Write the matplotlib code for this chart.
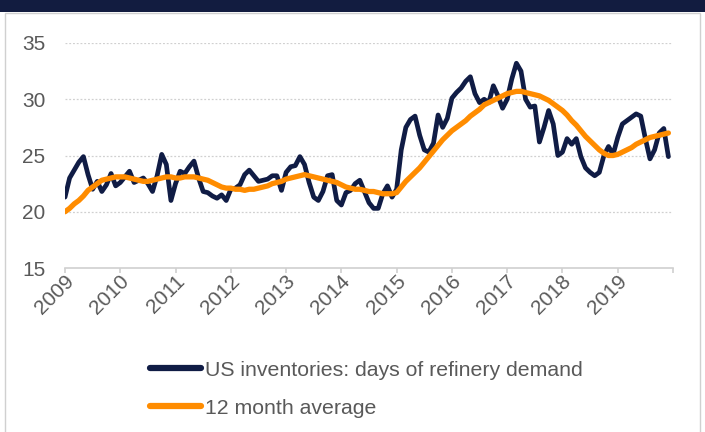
import matplotlib
matplotlib.use("Agg")
import matplotlib.pyplot as plt
from matplotlib.patches import Rectangle
from matplotlib.lines import Line2D
from matplotlib.transforms import ScaledTranslation

plt.rcParams['font.family'] = ['Liberation Sans', 'DejaVu Sans']

start_year = 2009
year_ticks = list(range(2009, 2021))
year_labels = [str(y) for y in range(2009, 2020)]
y_ticks = [15, 20, 25, 30, 35]

days_demand = [
    21.3, 23.0, 23.7, 24.4, 24.9, 23.3, 22.0, 22.7, 21.8, 22.4, 23.4, 22.3,
    22.6, 23.1, 23.6, 22.6, 22.8, 23.0, 22.5, 21.8, 23.2, 25.1, 24.2, 21.0,
    22.5, 23.6, 23.4, 24.0, 24.5, 23.0, 21.8, 21.7, 21.4, 21.2, 21.5, 21.0,
    22.0, 22.1, 22.4, 23.3, 23.7, 23.2, 22.7, 22.8, 22.9, 23.2, 23.2, 21.9,
    23.5, 24.0, 24.1, 24.9, 24.2, 22.6, 21.3, 21.0, 21.8, 23.2, 23.3, 21.0,
    20.6, 21.7, 21.9, 22.5, 22.8, 21.8, 20.8, 20.3, 20.3, 21.6, 22.3, 21.3,
    22.0, 25.5, 27.5, 28.2, 28.5, 26.8, 25.5, 25.3, 26.1, 28.6, 27.5, 28.3,
    30.1, 30.6, 31.0, 31.6, 32.0, 30.5, 29.7, 30.0, 29.7, 31.2, 30.3, 29.2,
    30.0, 31.8, 33.2, 32.5, 30.0, 29.3, 29.4, 26.2, 27.5, 29.0, 27.8, 25.0,
    25.3, 26.5, 26.0, 26.5, 24.9, 23.9, 23.5, 23.2, 23.5, 25.0, 25.8, 25.1,
    26.6, 27.8, 28.1, 28.4, 28.7, 28.5, 26.5, 24.7, 25.5, 27.0, 27.4, 24.9,
]

avg_12m = [
    20.0, 20.3, 20.7, 21.0, 21.4, 21.9, 22.2, 22.5, 22.8, 22.9, 23.0, 23.1,
    23.1, 23.1, 23.0, 22.9, 22.8, 22.7, 22.7, 22.8, 22.9, 23.0, 23.1, 23.1,
    23.0, 23.0, 23.1, 23.1, 23.1, 23.0, 22.9, 22.8, 22.6, 22.4, 22.2, 22.1,
    22.1, 22.0, 22.0, 21.9, 22.0, 22.0, 22.1, 22.2, 22.3, 22.5, 22.6, 22.7,
    22.9, 23.0, 23.1, 23.2, 23.3, 23.2, 23.1, 23.0, 22.9, 22.8, 22.7, 22.6,
    22.4, 22.2, 22.1, 22.0, 22.0, 21.9, 21.8, 21.8, 21.7, 21.6, 21.6, 21.6,
    21.7, 22.2, 22.7, 23.1, 23.5, 23.9, 24.4, 24.9, 25.4, 25.9, 26.4, 26.8,
    27.2, 27.5, 27.8, 28.1, 28.5, 28.8, 29.1, 29.5, 29.7, 29.9, 30.1, 30.3,
    30.5, 30.6, 30.7, 30.7, 30.6, 30.5, 30.4, 30.3, 30.1, 29.9, 29.6, 29.3,
    29.0, 28.6, 28.1, 27.7, 27.2, 26.7, 26.3, 25.9, 25.5, 25.2, 25.0, 25.0,
    25.1, 25.3, 25.5, 25.7, 26.0, 26.2, 26.4, 26.6, 26.7, 26.8, 26.9, 27.0,
]

series_names = ["US inventories: days of refinery demand", "12 month average"]
navy = "#101c45"
orange = "#ff8c00"
text_gray = "#595959"

x = [start_year + i / 12 for i in range(len(days_demand))]

W, H = 705, 432
fig = plt.figure(figsize=(W / 100, H / 100), dpi=100)
fig.patch.set_facecolor("white")

# top band and panel border
fig.add_artist(Rectangle((0, 1 - 12 / H), 1, 12 / H, transform=fig.transFigure,
                         facecolor="#121c40", edgecolor="none", zorder=0))
fig.add_artist(Rectangle((4.5 / W, -0.01), (700 - 4.5) / W, 1 - 12.5 / H + 0.01,
                         transform=fig.transFigure, facecolor="none",
                         edgecolor="#d0d0d0", linewidth=1.0, zorder=0))

ax = fig.add_axes([65 / W, 1 - 268 / H, (673 - 65) / W, (268 - 43) / H])
ax.plot(x, days_demand, color=navy, linewidth=3.4, solid_joinstyle="round",
        solid_capstyle="round", zorder=3)
ax.plot(x, avg_12m, color=orange, linewidth=3.8, solid_joinstyle="round",
        solid_capstyle="round", zorder=4)

ax.set_xlim(2009, 2020)
ax.set_ylim(15, 35)
ax.set_yticks(y_ticks)
ax.set_xticks(year_ticks)
ax.set_xticklabels([])
label_trans = ax.get_xaxis_transform() + ScaledTranslation(6 / 100, -10 / 100,
                                                           fig.dpi_scale_trans)
for yr, lab in zip(year_ticks, year_labels):
    ax.text(yr, 0, lab, transform=label_trans, rotation=45, ha="right",
            va="center", rotation_mode="anchor", fontsize=15, color=text_gray,
            clip_on=False)
for gy in y_ticks[1:]:
    ax.axhline(gy, color="#d0d0d0", linewidth=0.9, linestyle=(0, (1.5, 1.5)), zorder=1)

for s in ["top", "right", "left"]:
    ax.spines[s].set_visible(False)
ax.spines["bottom"].set_color("#d0d0d0")
ax.spines["bottom"].set_linewidth(1.2)
ax.tick_params(axis="x", colors="#d0d0d0", length=3.8, width=1.2)
ax.tick_params(axis="y", length=0, labelcolor=text_gray, labelsize=15, pad=14)
ax.set_facecolor("none")

handles = [Line2D([], [], color=navy, linewidth=4.5, solid_capstyle="round"),
           Line2D([], [], color=orange, linewidth=4.5, solid_capstyle="round")]
leg = fig.legend(handles, series_names, loc="upper left",
                 bbox_to_anchor=(141 / W, 1 - 352 / H), frameon=False,
                 fontsize=15.3, handlelength=2.4, handletextpad=0.2,
                 labelspacing=0.9, borderaxespad=0)
for t in leg.get_texts():
    t.set_color(text_gray)

fig.savefig("out.png", dpi=100, facecolor="white")
